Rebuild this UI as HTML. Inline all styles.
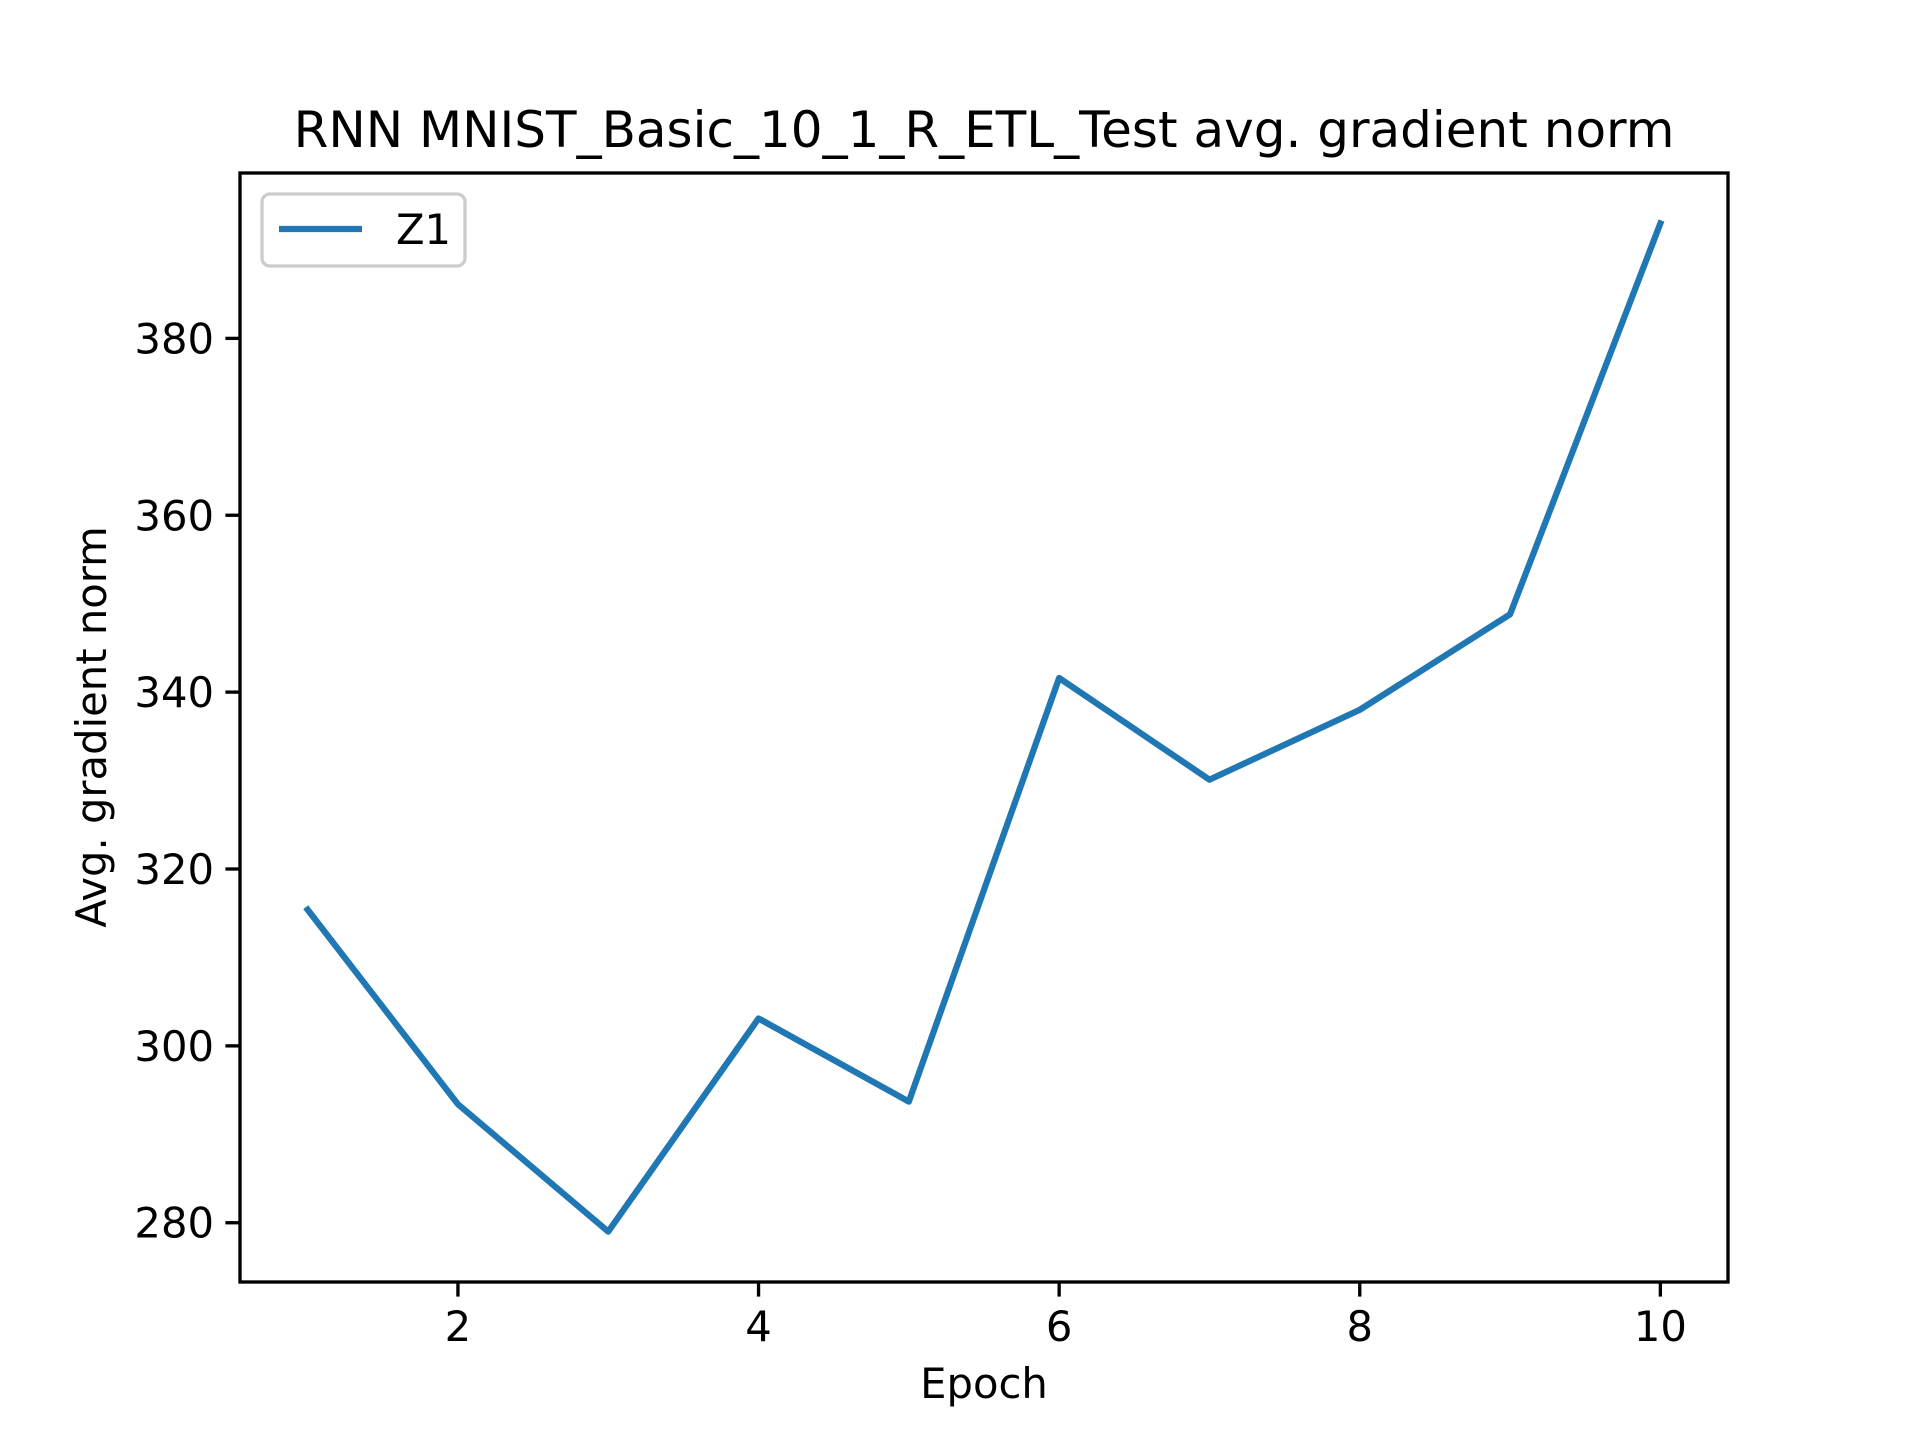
<!DOCTYPE html>
<html><head><meta charset="utf-8"><style>body{margin:0;background:#fff}svg{display:block}text{font-family:"DejaVu Sans","Liberation Sans",sans-serif;fill:#000}</style></head>
<body>
<svg id="chart" width="1920" height="1440" viewBox="0 0 1920 1440" xmlns="http://www.w3.org/2000/svg">
<rect width="1920" height="1440" fill="#fff"/>
<text x="984" y="147" font-size="50" text-anchor="middle">RNN MNIST_Basic_10_1_R_ETL_Test avg. gradient norm</text>
<g id="xticks"></g><g id="yticks"></g>
<polyline id="series" fill="none" stroke="#1f77b4" stroke-width="6.25" stroke-linejoin="round" stroke-linecap="square"/>
<rect x="240" y="173" width="1488" height="1109" fill="none" stroke="#000" stroke-width="3.33"/>
<text x="984" y="1398" font-size="41.7" text-anchor="middle">Epoch</text>
<text transform="translate(106,727) rotate(-90)" font-size="41.7" text-anchor="middle">Avg. gradient norm</text>
<g>
<rect x="262" y="194" width="203" height="72" rx="8" fill="#fff" fill-opacity="0.8" stroke="#ccc" stroke-width="3.33"/>
<line x1="279" y1="229" x2="362" y2="229" stroke="#1f77b4" stroke-width="6.25"/>
<text x="396" y="244" font-size="41.7">Z1</text>
</g>
</svg>
<script>
const epochs=[1,2,3,4,5,6,7,8,9,10];
const values=[315.4,293.4,279.0,303.1,293.7,341.6,330.1,338.0,348.8,393.0];
const xTickValues=[2,4,6,8,10];
const yTickValues=[280,300,320,340,360,380];
const L=240,R=1728,T=173,B=1282;
const xmin=Math.min(...epochs),xmax=Math.max(...epochs),xp=(xmax-xmin)*0.05;
const ymin=Math.min(...values),ymax=Math.max(...values),yp=(ymax-ymin)*0.05;
const sx=v=>L+(v-(xmin-xp))/((xmax+xp)-(xmin-xp))*(R-L);
const sy=v=>B-(v-(ymin-yp))/((ymax+yp)-(ymin-yp))*(B-T);
const NS='http://www.w3.org/2000/svg';
document.getElementById('series').setAttribute('points',epochs.map((e,i)=>sx(e)+','+sy(values[i])).join(' '));
const xg=document.getElementById('xticks');
xTickValues.forEach(v=>{
const l=document.createElementNS(NS,'line');


l.setAttribute('x1',sx(v));l.setAttribute('x2',sx(v));l.setAttribute('y1',B);l.setAttribute('y2',B+14.6);l.setAttribute('stroke','#000');l.setAttribute('stroke-width','3.33');xg.appendChild(l);
const t=document.createElementNS(NS,'text');


t.setAttribute('x',sx(v));t.setAttribute('y',B+59);t.setAttribute('font-size','41.7');t.setAttribute('text-anchor','middle');t.textContent=v;xg.appendChild(t);
});
const yg=document.getElementById('yticks');
yTickValues.forEach(v=>{
const l=document.createElementNS(NS,'line');


l.setAttribute('x1',L-14.6);l.setAttribute('x2',L);l.setAttribute('y1',sy(v));l.setAttribute('y2',sy(v));l.setAttribute('stroke','#000');l.setAttribute('stroke-width','3.33');yg.appendChild(l);
const t=document.createElementNS(NS,'text');


t.setAttribute('x',L-26);t.setAttribute('y',sy(v)+15);t.setAttribute('font-size','41.7');t.setAttribute('text-anchor','end');t.textContent=v;yg.appendChild(t);
});
</script>
</body></html>
